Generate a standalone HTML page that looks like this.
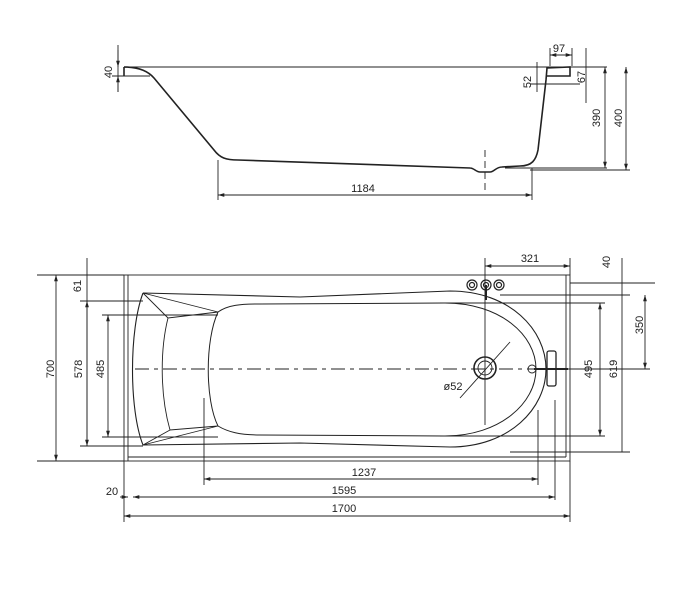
<!DOCTYPE html>
<html><head><style>body{margin:0;background:#fff}svg{display:block}text{font-family:"Liberation Sans",sans-serif;font-size:11px;fill:#222}</style></head>
<body>
<svg width="694" height="604" viewBox="0 0 694 604" xmlns="http://www.w3.org/2000/svg">
<defs><marker id="a" viewBox="0 0 10 10" refX="10" refY="5" markerWidth="7" markerHeight="7" orient="auto-start-reverse"><path d="M0,2L10,5L0,8z" fill="#222"/></marker></defs>
<g stroke="#222" fill="none" stroke-width="0.9">
<line x1="124" y1="67" x2="607" y2="67"/>
<line x1="505" y1="168" x2="607" y2="168"/>
<line x1="530" y1="170" x2="630" y2="170"/>
<line x1="112" y1="76" x2="150" y2="76"/>
<path d="M124,67 V76 M124,67 C138,67 148,71 154,78 L214,150 C220,158 226,160 238,160 L470,168 C474,168 476,172 480,172 L490,172 C494,172 496,167 502,167 L520,166 C532,166 536,160 538,150 L546,80 L547,68 L570,67 V76 L546,76" stroke-width="1.6"/>
<line x1="485" y1="150" x2="485" y2="190" stroke-dasharray="7,4"/>
<line x1="118" y1="45" x2="118" y2="92"/>
<path d="M118,50 V67" marker-end="url(#a)"/><path d="M118,92 V76" marker-end="url(#a)"/>
<line x1="218" y1="160" x2="218" y2="200"/>
<line x1="532" y1="168" x2="532" y2="200"/>
<line x1="218" y1="195" x2="532" y2="195" marker-start="url(#a)" marker-end="url(#a)"/>
<line x1="537" y1="62" x2="537" y2="92"/>
<line x1="530" y1="84" x2="580" y2="84"/>
<line x1="550" y1="48" x2="550" y2="66"/><line x1="572" y1="48" x2="572" y2="66"/>
<line x1="550" y1="55" x2="572" y2="55" marker-start="url(#a)" marker-end="url(#a)"/>
<line x1="586" y1="48" x2="586" y2="103"/>
<line x1="605" y1="67" x2="605" y2="168" marker-start="url(#a)" marker-end="url(#a)"/>
<line x1="626" y1="67" x2="626" y2="170" marker-start="url(#a)" marker-end="url(#a)"/>

<rect x="124" y="275" width="446" height="186"/>
<line x1="128" y1="275" x2="128" y2="461"/>
<line x1="128" y1="457" x2="566" y2="457"/>
<line x1="566" y1="275" x2="566" y2="457"/>
<path d="M143,293 L300,297 L450,291 C510,291 546,330 546,369 C546,408 510,447 450,447 L300,443 L143,445 C129,410 129,330 143,293" stroke-width="1.1"/>
<path d="M218,312 C228,305 240,304 260,304 L445,303 C500,303 536,335 536,369 C536,403 500,436 445,436 L260,435 C240,435 228,432 218,426 C205,400 205,340 218,312" stroke-width="1"/>
<path d="M143,293 L218,312 M143,293 L168,318 L218,312 M168,318 C160,350 160,395 170,430 L218,426 M143,445 L170,430 M143,445 L218,426"/>
<line x1="135" y1="369" x2="556" y2="369" stroke-dasharray="14,5,4,5"/>
<line x1="485" y1="258" x2="485" y2="425"/>
<circle cx="485" cy="368" r="11" stroke-width="1.6"/><circle cx="485" cy="368" r="7"/>
<line x1="460" y1="398" x2="510" y2="342"/>
<g stroke-width="1.2"><circle cx="472" cy="285" r="5"/><circle cx="486" cy="285" r="5"/><circle cx="499" cy="285" r="5"/><circle cx="472" cy="285" r="2.5"/><circle cx="486" cy="285" r="2.5"/><circle cx="499" cy="285" r="2.5"/></g>
<line x1="486" y1="285" x2="486" y2="300" stroke-width="2"/>
<circle cx="532" cy="369" r="4"/>
<line x1="534" y1="369" x2="568" y2="369" stroke-width="2"/>
<rect x="547" y="351" width="9" height="35" rx="2" stroke-width="1.3"/>
<line x1="37" y1="275" x2="124" y2="275"/><line x1="37" y1="461" x2="124" y2="461"/>
<line x1="56" y1="275" x2="56" y2="461" marker-start="url(#a)" marker-end="url(#a)"/>
<line x1="80" y1="301" x2="143" y2="301"/><line x1="80" y1="446" x2="143" y2="446"/>
<line x1="87" y1="258" x2="87" y2="446"/>
<line x1="87" y1="301" x2="87" y2="446" marker-start="url(#a)" marker-end="url(#a)"/>
<line x1="102" y1="315" x2="218" y2="315"/><line x1="102" y1="437" x2="218" y2="437"/>
<line x1="108" y1="315" x2="108" y2="437" marker-start="url(#a)" marker-end="url(#a)"/>
<line x1="485" y1="266" x2="570" y2="266" marker-start="url(#a)" marker-end="url(#a)"/>
<line x1="570" y1="258" x2="570" y2="275"/>
<line x1="570" y1="283" x2="655" y2="283"/>
<line x1="500" y1="295" x2="630" y2="295"/>
<line x1="622" y1="258" x2="622" y2="452"/>
<line x1="645" y1="295" x2="645" y2="369" marker-start="url(#a)" marker-end="url(#a)"/>
<line x1="560" y1="369" x2="650" y2="369"/>
<line x1="440" y1="303" x2="605" y2="303"/><line x1="440" y1="436" x2="605" y2="436"/>
<line x1="600" y1="303" x2="600" y2="436" marker-start="url(#a)" marker-end="url(#a)"/>
<line x1="510" y1="452" x2="630" y2="452"/>
<line x1="204" y1="398" x2="204" y2="485"/><line x1="538" y1="410" x2="538" y2="485"/>
<line x1="204" y1="479" x2="538" y2="479" marker-start="url(#a)" marker-end="url(#a)"/>
<line x1="555" y1="400" x2="555" y2="500"/>
<line x1="133" y1="497" x2="555" y2="497" marker-start="url(#a)" marker-end="url(#a)"/>
<line x1="120" y1="497" x2="128" y2="497" marker-end="url(#a)"/>
<line x1="124" y1="461" x2="124" y2="522"/><line x1="570" y1="461" x2="570" y2="522"/>
<line x1="124" y1="516" x2="570" y2="516" marker-start="url(#a)" marker-end="url(#a)"/>
</g>
<text x="363" y="192" text-anchor="middle">1184</text>
<text x="559" y="52" text-anchor="middle">97</text>
<text transform="translate(112,72) rotate(-90)" text-anchor="middle">40</text>
<text transform="translate(531,82) rotate(-90)" text-anchor="middle">52</text>
<text transform="translate(585,77) rotate(-90)" text-anchor="middle">67</text>
<text transform="translate(600,118) rotate(-90)" text-anchor="middle">390</text>
<text transform="translate(622,118) rotate(-90)" text-anchor="middle">400</text>
<text x="530" y="262" text-anchor="middle">321</text>
<text transform="translate(610,262) rotate(-90)" text-anchor="middle">40</text>
<text transform="translate(643,325) rotate(-90)" text-anchor="middle">350</text>
<text transform="translate(592,369) rotate(-90)" text-anchor="middle">495</text>
<text transform="translate(617,369) rotate(-90)" text-anchor="middle">619</text>
<text transform="translate(54,369) rotate(-90)" text-anchor="middle">700</text>
<text transform="translate(82,369) rotate(-90)" text-anchor="middle">578</text>
<text transform="translate(104,369) rotate(-90)" text-anchor="middle">485</text>
<text transform="translate(81,286) rotate(-90)" text-anchor="middle">61</text>
<text x="453" y="390" text-anchor="middle">ø52</text>
<text x="364" y="476" text-anchor="middle">1237</text>
<text x="344" y="494" text-anchor="middle">1595</text>
<text x="344" y="512" text-anchor="middle">1700</text>
<text x="112" y="495" text-anchor="middle">20</text>
</svg>
</body></html>
